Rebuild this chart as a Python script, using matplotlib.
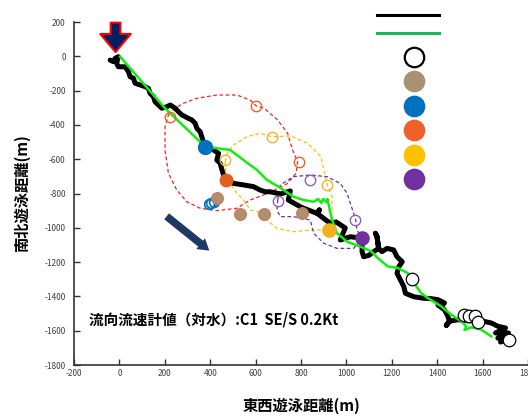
import matplotlib
matplotlib.use('Agg')
import matplotlib.pyplot as plt
from matplotlib.lines import Line2D

plt.rcParams['font.family'] = ['Noto Sans CJK JP', 'DejaVu Sans']
plt.rcParams['axes.unicode_minus'] = False

# swim track (black)
black_x = [-41, -27, -19, -5, -12, -5, 25, 40, 47, 62, 69, 91, 113, 128, 135, 150, 157, 172,
           187, 209, 224, 246, 260, 275, 290, 304, 319, 334, 341, 356, 363, 370, 378, 414, 437,
           429, 444, 452, 466, 503, 547, 591, 620, 643, 665, 709, 753, 744, 797, 810, 871, 881,
           871, 900, 929, 955, 995, 973, 1017, 1069, 1069, 1076, 1100, 1120, 1142, 1135, 1128,
           1135, 1142, 1157, 1179, 1208, 1223, 1246, 1231, 1223, 1238, 1253, 1260, 1297, 1341,
           1373, 1403, 1432, 1418, 1403, 1432, 1447, 1454, 1440, 1454, 1491, 1535, 1594, 1638,
           1667, 1701, 1657, 1714, 1667, 1723, 1679, 1701]
black_y = [-22, -31, -12, -2, -41, -61, -61, -90, -119, -128, -157, -167, -177, -187, -216,
           -236, -265, -284, -303, -294, -284, -303, -323, -342, -352, -362, -371, -391, -420,
           -440, -469, -498, -517, -546, -566, -605, -624, -663, -721, -741, -750, -760, -780,
           -790, -790, -803, -785, -838, -877, -885, -916, -896, -916, -945, -974, -966, -1001,
           -1071, -1052, -1061, -1139, -1169, -1160, -1139, -1120, -1052, -1032, -1052, -1120,
           -1139, -1120, -1129, -1169, -1198, -1227, -1265, -1304, -1343, -1382, -1402, -1411,
           -1413, -1419, -1438, -1458, -1450, -1478, -1516, -1545, -1569, -1545, -1536, -1542,
           -1542, -1555, -1574, -1584, -1613, -1613, -1643, -1648, -1666, -1637]

# escort boat track (green)
green_x = [3, 201, 378, 429, 488, 547, 606, 650, 701, 767, 811, 856, 876, 890, 898, 912, 916,
           922, 937, 959, 1003, 1062, 1109, 1138, 1182, 1226, 1270, 1292, 1329, 1358, 1418,
           1462, 1506, 1528, 1520, 1550, 1594, 1638]
green_y = [-2, -303, -527, -536, -546, -605, -663, -721, -760, -819, -838, -848, -832, -855,
           -832, -850, -832, -867, -955, -1032, -1081, -1110, -1137, -1176, -1225, -1234,
           -1264, -1312, -1380, -1409, -1458, -1507, -1545, -1574, -1596, -1580, -1594, -1633]

# dashed drift areas
red_x = [216, 246, 282, 341, 429, 518, 576, 603, 638, 697, 741, 763, 785, 778, 741, 701, 635,
         576, 518, 429, 356, 297, 253, 216, 201, 201, 216]
red_y = [-342, -303, -274, -245, -226, -226, -255, -290, -303, -371, -449, -546, -615, -682,
         -741, -770, -809, -838, -886, -900, -886, -848, -780, -682, -546, -410, -342]
gold_x = [466, 474, 503, 562, 620, 672, 756, 829, 888, 915, 937, 937, 929, 922, 841, 767, 694,
          650, 635, 576, 547, 518, 488, 470, 466]
gold_y = [-615, -566, -517, -469, -449, -469, -465, -507, -585, -750, -819, -896, -955, -1013,
          -1013, -1023, -1003, -955, -916, -896, -838, -799, -741, -682, -615]
purple_x = [697, 709, 767, 841, 915, 973, 1003, 1017, 1040, 1047, 1069, 1032, 959, 900, 856,
            841, 767, 709, 694, 697]
purple_y = [-842, -750, -702, -692, -702, -741, -799, -857, -945, -1013, -1061, -1120, -1120,
            -1090, -1032, -955, -935, -935, -896, -842]

# point markers
white_x = [1288, 1517, 1539, 1566, 1579, 1716]
white_y = [-1300, -1508, -1514, -1514, -1548, -1654]
tan_x = [429, 532, 635, 804]
tan_y = [-828, -920, -920, -916]
blue_x, blue_y = [378], [-527]
orange_x, orange_y = [469], [-721]
gold_pt_x, gold_pt_y = [922], [-1013]
purple_pt_x, purple_pt_y = [1067], [-1061]
red_open_x = [223, 603, 793]
red_open_y = [-352, -290, -616]
gold_open_x = [466, 672, 915]
gold_open_y = [-605, -469, -750]
purple_open_x = [841, 697, 1040]
purple_open_y = [-721, -842, -955]
blue_open_x = [396, 404, 415]
blue_open_y = [-861, -855, -847]

C_TAN = '#a89272'
C_BLUE = '#0070c0'
C_ORANGE = '#f0602a'
C_GOLD = '#ffc000'
C_PURPLE = '#7030a0'
C_RED = '#ff2020'

fig = plt.figure(figsize=(5.28, 4.16), dpi=100)
ax = fig.add_axes([74 / 528, 51 / 416, 454 / 528, 343 / 416])

dash = (0, (3, 2))
ax.plot(red_x, red_y, color=C_RED, lw=0.9, ls=dash, zorder=2)
ax.plot(gold_x, gold_y, color=C_GOLD, lw=0.9, ls=dash, zorder=2)
ax.plot(purple_x, purple_y, color=C_PURPLE, lw=0.9, ls=dash, zorder=2)

ax.plot(black_x, black_y, color='black', lw=3.6, solid_capstyle='round',
        solid_joinstyle='round', zorder=3)
ax.plot(green_x, green_y, color='#10ee10', lw=1.8, zorder=4)

ax.plot(red_open_x, red_open_y, 'o', ms=7.5, mfc='none', mec=C_ORANGE, mew=1, zorder=5)
ax.plot(gold_open_x, gold_open_y, 'o', ms=7.5, mfc='none', mec='#f4b030', mew=1, zorder=5)
ax.plot(purple_open_x, purple_open_y, 'o', ms=7.5, mfc='none', mec='#9060b0', mew=1, zorder=5)
ax.plot(blue_open_x, blue_open_y, 'o', ms=7, mfc='none', mec=C_BLUE, mew=1.2, zorder=5)

ax.plot(tan_x, tan_y, 'o', ms=8.5, mfc=C_TAN, mec='#e07050', mew=0.8, zorder=6)
ax.plot(blue_x, blue_y, 'o', ms=10, color=C_BLUE, zorder=6)
ax.plot(orange_x, orange_y, 'o', ms=9, color='#e06020', zorder=6)
ax.plot(gold_pt_x, gold_pt_y, 'o', ms=9.5, color='#f0b020', zorder=6)
ax.plot(purple_pt_x, purple_pt_y, 'o', ms=9.5, color=C_PURPLE, zorder=6)
ax.plot(white_x, white_y, 'o', ms=9, mfc='white', mec='black', mew=0.9, zorder=6)

# start arrow and current arrow
ax.annotate('', xy=(-17, 25), xytext=(-17, 196),
            arrowprops=dict(arrowstyle='simple,head_length=1.3,head_width=2.2,tail_width=0.7',
                            fc='#002060', ec='red', lw=1.5, mutation_scale=10,
                            shrinkA=0, shrinkB=0), zorder=7)
ax.annotate('', xy=(396, -1133), xytext=(208, -933),
            arrowprops=dict(arrowstyle='simple,head_length=0.8,head_width=1.0,tail_width=0.55',
                            fc='#1f3864', ec='none', mutation_scale=10,
                            shrinkA=0, shrinkB=0), zorder=7)

ax.text(-134, -1532, '流向流速計値（対水）:C1  SE/S 0.2Kt', fontsize=10.5,
        fontweight='bold', va='center', ha='left')

ax.set_xlim(-200, 1800)
ax.set_ylim(-1800, 200)
ax.set_xticks(range(-200, 1801, 200))
ax.set_yticks(range(-1800, 201, 200))
for s in ['top', 'right']:
    ax.spines[s].set_visible(False)
for s in ['left', 'bottom']:
    ax.spines[s].set_color('#333333')
    ax.spines[s].set_linewidth(1.2)
ax.tick_params(direction='in', length=4, width=1, color='#333333',
               labelsize=6, labelcolor='#404040')
ax.tick_params(axis='y', pad=6)
ax.tick_params(axis='x', pad=3)

ax.set_xlabel('東西遊泳距離(m)', fontsize=11, fontweight='bold', labelpad=14)
ax.set_ylabel('南北遊泳距離(m)', fontsize=11, fontweight='bold', labelpad=10)

# legend without labels
line_handles = [Line2D([], [], color='black', lw=2.2),
                Line2D([], [], color='#20b060', lw=2.2)]
leg1 = fig.legend(line_handles, ['', ''], loc='upper left', bbox_to_anchor=(370 / 528, 1 - 2 / 416),
                  frameon=False, handlelength=4.5, fontsize=10, labelspacing=0.3,
                  borderpad=0, handletextpad=0)
dot_colors = [('white', 'black'), (C_TAN, C_TAN), (C_BLUE, C_BLUE), (C_ORANGE, C_ORANGE),
              (C_GOLD, C_GOLD), (C_PURPLE, C_PURPLE)]
dot_handles = [Line2D([], [], ls='none', marker='o', ms=14, mfc=fc, mec=ec, mew=1.6)
               for fc, ec in dot_colors]
leg2 = fig.legend(dot_handles, [''] * 6, loc='upper left', bbox_to_anchor=(396 / 528, 1 - 44 / 416),
                  frameon=False, handlelength=1.6, fontsize=10, labelspacing=0.75,
                  borderpad=0, handletextpad=0)

fig.savefig('out.png', dpi=100)
